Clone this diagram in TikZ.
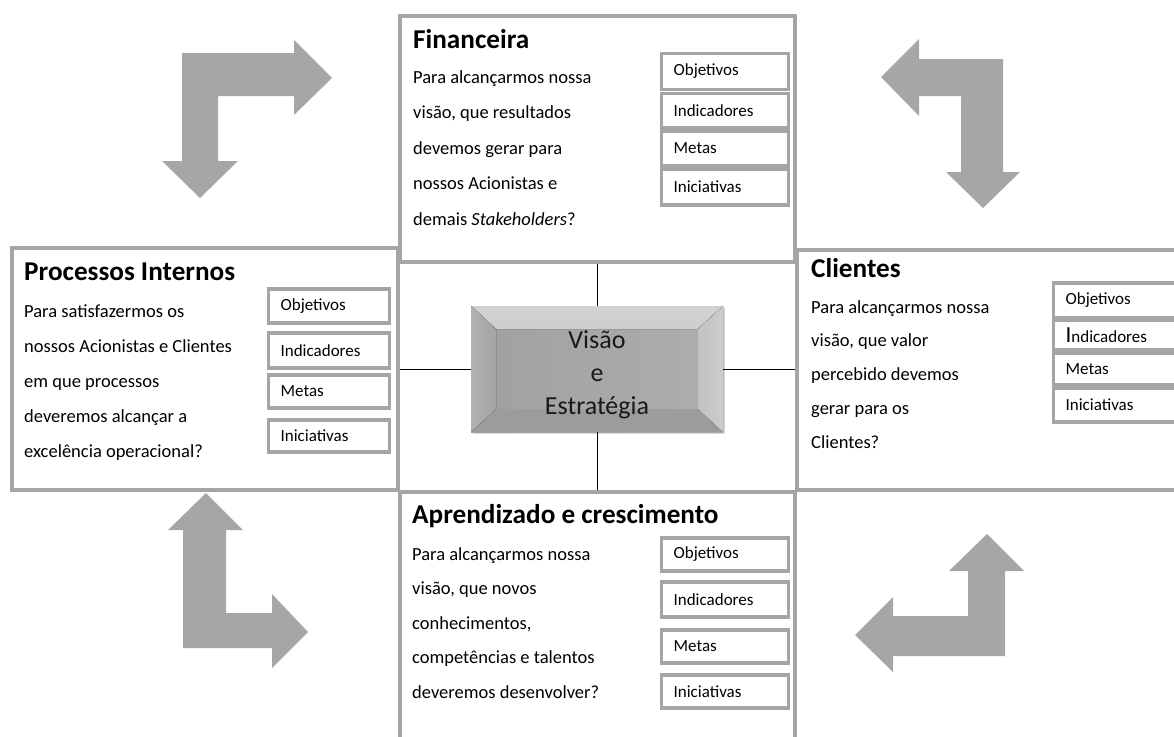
\documentclass[tikz,border=0pt]{standalone}
\usepackage{fontspec}
\setmainfont{Carlito}
\usetikzlibrary{shadows,calc}

\definecolor{framegray}{HTML}{A5A5A5}
\definecolor{arrowgray}{HTML}{A6A6A6}
\definecolor{faceL}{HTML}{A0A0A0}
\definecolor{faceR}{HTML}{AEAEAE}
\definecolor{bevTop}{HTML}{BEBEBE}
\definecolor{bevLeft}{HTML}{A4A4A4}
\definecolor{bevRight}{HTML}{C2C2C2}
\definecolor{bevBottom}{HTML}{9C9C9C}

% left-aligned label of fixed width inside an indicator box
\newcommand\sblabel[2]{\makebox[#1][l]{#2}}

\tikzset{
  bigbox/.style={draw=framegray, line width=3.5pt, fill=white,
    drop shadow={shadow xshift=1.5pt, shadow yshift=-1.5pt, opacity=0.35}},
  smallbox/.style={draw=framegray, line width=3.2pt, fill=white, anchor=west,
    inner xsep=12pt, inner ysep=0pt, font=\fontsize{17}{19}\selectfont,
    drop shadow={shadow xshift=1.5pt, shadow yshift=-1.5pt, opacity=0.4}},
  titletext/.style={anchor=base west, inner sep=0pt, font=\fontsize{27.2}{30}\selectfont\bfseries},
  bodytext/.style={anchor=base west, inner sep=0pt, font=\fontsize{18.5}{22}\selectfont},
  arrowshape/.style={fill=arrowgray},
  link/.style={draw=black, line width=0.8pt}
}

\begin{document}
\begin{tikzpicture}[x=1pt, y=-1pt]
\useasboundingbox (0,0) rectangle (1174,736);

% bent arrows between the perspectives
\fill[arrowshape] (182,53) -- (294,53) -- (294,40) -- (332,78) -- (294,115) -- (294,96)
  -- (218,96) -- (218,161) -- (238,161) -- (200,198) -- (162,161) -- (182,161) -- cycle;
\fill[arrowshape] (1003,59) -- (919,59) -- (919,39) -- (881,77) -- (919,116) -- (919,96)
  -- (961,96) -- (961,172) -- (946,172) -- (983,208) -- (1020,172) -- (1003,172) -- cycle;
\fill[arrowshape] (206,493) -- (243,530) -- (226,530) -- (226,613) -- (272,613) -- (272,594)
  -- (308,632) -- (272,668) -- (272,648) -- (183,648) -- (183,530) -- (168,530) -- cycle;
\fill[arrowshape] (987,534) -- (1024,571) -- (1005,571) -- (1005,656) -- (893,656) -- (893,672)
  -- (855,635) -- (893,597) -- (893,616) -- (968,616) -- (968,571) -- (949,571) -- cycle;

% the four perspective panels
\node[bigbox, minimum width=395, minimum height=246] (fin)  at (597.5,139) {};
\node[bigbox, minimum width=386, minimum height=242] (proc) at (205,369) {};
\node[bigbox, minimum width=393, minimum height=240] (cli)  at (993.5,370) {};
\node[bigbox, minimum width=395, minimum height=258] (apr)  at (597.5,621) {};

% central bevelled block
\node[minimum width=252, minimum height=126, inner sep=0pt,
  left color=faceL, right color=faceR,
  drop shadow={shadow xshift=1.5pt, shadow yshift=-1.5pt, opacity=0.3},
  path picture={
    \fill[top color=bevTop!70!white, bottom color=bevTop] (path picture bounding box.north west)
      -- (path picture bounding box.north east)
      -- ([xshift=-25pt,yshift=-23pt]path picture bounding box.north east)
      -- ([xshift=25pt,yshift=-23pt]path picture bounding box.north west) -- cycle;
    \fill[bevBottom] (path picture bounding box.south west) -- (path picture bounding box.south east)
      -- ([xshift=-25pt,yshift=23pt]path picture bounding box.south east)
      -- ([xshift=25pt,yshift=23pt]path picture bounding box.south west) -- cycle;
    \fill[left color=bevLeft!85!white, right color=bevLeft] (path picture bounding box.north west)
      -- ([xshift=25pt,yshift=-23pt]path picture bounding box.north west)
      -- ([xshift=25pt,yshift=23pt]path picture bounding box.south west)
      -- (path picture bounding box.south west) -- cycle;
    \fill[left color=bevRight, right color=bevRight!85!white] (path picture bounding box.north east)
      -- ([xshift=-25pt,yshift=-23pt]path picture bounding box.north east)
      -- ([xshift=-25pt,yshift=23pt]path picture bounding box.south east)
      -- (path picture bounding box.south east) -- cycle;
  }] (vis) at (597,369) {};
\node[align=center, text=black!90, font=\fontsize{26}{33}\selectfont] (vis-text)
  at ([yshift=-6pt]vis.center) {Visão\\e\\Estratégia};

% links from the centre to each panel
\draw[link] (vis.north) -- (vis.north |- fin.south);
\draw[link] (vis.south) -- (vis.south |- apr.north);
\draw[link] (vis.west) -- (vis.west -| proc.east);
\draw[link] (vis.east) -- (vis.east -| cli.west);

% Financeira
\node[titletext] (fin-title) at (413,48) {Financeira};
\foreach \ln [count=\i] in {{Para alcançarmos nossa},{visão, que resultados},{devemos gerar para},
  {nossos Acionistas e},{demais \textit{Stakeholders}?}}
  \node[bodytext] (fin-l\i) at (413,{83+35.5*(\i-1)}) {\ln};
\node[smallbox, minimum height=36] (fin-obj) at (660,71.5) {\sblabel{103pt}{Objetivos}};
\node[smallbox, minimum height=34] (fin-ind) at (660,110.5) {\sblabel{103pt}{Indicadores}};
\node[smallbox, minimum height=35] (fin-met) at (660,148.5) {\sblabel{103pt}{Metas}};
\node[smallbox, minimum height=36] (fin-ini) at (660,187) {\sblabel{103pt}{Iniciativas}};

% Processos Internos
\node[titletext] (proc-title) at (24,280) {Processos Internos};
\foreach \ln [count=\i] in {{Para satisfazermos os},{nossos Acionistas e Clientes},{em que processos},
  {deveremos alcançar a},{excelência operacional?}}
  \node[bodytext] (proc-l\i) at (24,{317+35*(\i-1)}) {\ln};
\node[smallbox, minimum height=34] (proc-obj) at (267,306) {\sblabel{97pt}{Objetivos}};
\node[smallbox, minimum height=35] (proc-ind) at (267,350.5) {\sblabel{97pt}{Indicadores}};
\node[smallbox, minimum height=33] (proc-met) at (267,391.5) {\sblabel{97pt}{Metas}};
\node[smallbox, minimum height=32] (proc-ini) at (267,436) {\sblabel{97pt}{Iniciativas}};

% Clientes
\node[titletext] (cli-title) at (811,277) {Clientes};
\foreach \ln [count=\i] in {{Para alcançarmos nossa},{visão, que valor},{percebido devemos},
  {gerar para os},{Clientes?}}
  \node[bodytext] (cli-l\i) at (811,{313+33.8*(\i-1)}) {\ln};
\node[smallbox, minimum height=35] (cli-obj) at (1052,300.5) {\sblabel{106pt}{Objetivos}};
\node[smallbox, minimum height=30] (cli-ind) at (1052,335)
  {\sblabel{106pt}{{\fontsize{23}{23}\selectfont I}ndicadores}};
\node[smallbox, minimum height=32] (cli-met) at (1052,369) {\sblabel{106pt}{Metas}};
\node[smallbox, minimum height=34] (cli-ini) at (1052,405) {\sblabel{106pt}{Iniciativas}};

% Aprendizado e crescimento
\node[titletext] (apr-title) at (412,523) {Aprendizado e crescimento};
\foreach \ln [count=\i] in {{Para alcançarmos nossa},{visão, que novos},{conhecimentos,},
  {competências e talentos},{deveremos desenvolver?}}
  \node[bodytext] (apr-l\i) at (412,{560+34.6*(\i-1)}) {\ln};
\node[smallbox, minimum height=33] (apr-obj) at (660,554.5) {\sblabel{103pt}{Objetivos}};
\node[smallbox, minimum height=35] (apr-ind) at (660,599.5) {\sblabel{103pt}{Indicadores}};
\node[smallbox, minimum height=33] (apr-met) at (660,646.5) {\sblabel{103pt}{Metas}};
\node[smallbox, minimum height=33] (apr-ini) at (660,691.5) {\sblabel{103pt}{Iniciativas}};
\end{tikzpicture}
\end{document}
